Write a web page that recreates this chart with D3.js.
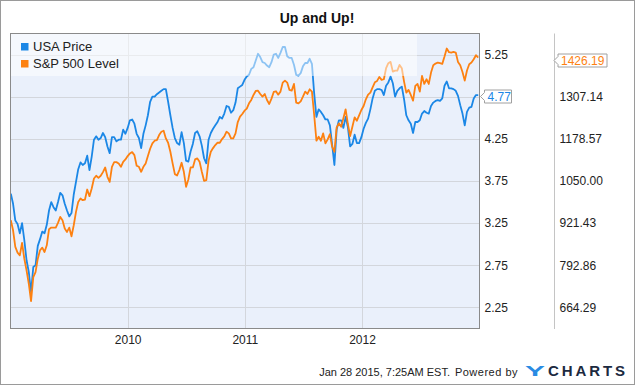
<!DOCTYPE html>
<html><head><meta charset="utf-8">
<script src="https://cdn.jsdelivr.net/npm/d3@7"></script>
<style>
html,body{margin:0;padding:0;background:#fff;}
svg{display:block;font-family:"Liberation Sans",Arial,sans-serif;}
</style></head><body>
<svg id="chart" width="635" height="385"></svg>
<script>
const chartTitle = "Up and Up!";
const seriesNames = ["USA Price", "S&P 500 Level"];
const seriesColors = ["#1b87e6", "#fd8111"];
const firstWeek = "2009-01-02"; // weekly closes
const usaPrice = [
3.60,3.48,3.28,3.24,3.13,3.25,3.05,2.81,2.67,2.43,
2.73,2.75,2.98,3.06,3.15,3.13,3.23,3.40,3.50,3.44,
3.40,3.50,3.61,3.58,3.48,3.40,3.33,3.37,3.59,3.74,
3.89,3.97,3.94,3.96,4.05,3.88,4.04,4.24,4.28,4.24,
4.26,4.32,4.27,4.16,4.08,4.27,4.27,4.22,4.24,4.24,
4.36,4.31,4.38,4.47,
4.48,4.43,4.31,4.26,4.14,4.31,
4.41,4.53,4.69,4.75,4.75,4.78,4.80,4.82,4.84,4.84,
4.69,4.53,4.38,4.26,4.20,4.18,4.33,4.20,3.99,3.98,
4.10,4.19,4.32,4.34,4.28,4.17,4.02,3.96,4.24,4.32,
4.37,4.41,4.45,4.51,4.49,4.55,4.64,4.63,4.56,4.59,
4.68,4.85,4.87,4.89,4.95,4.99,
5.01,5.08,5.10,5.18,
5.26,5.22,5.16,5.15,5.12,5.10,5.16,5.25,5.26,5.21,
5.27,5.34,5.34,5.23,5.21,5.21,5.13,5.01,5.00,5.03,
5.11,5.15,5.15,5.20,5.14,4.79,4.51,4.60,4.57,4.53,
4.48,4.48,4.41,4.18,3.94,4.36,4.47,4.47,4.38,4.51,
4.39,4.16,4.19,4.30,4.20,4.20,4.27,4.37,
4.44,4.49,4.60,4.73,4.82,4.84,4.84,4.83,4.77,4.88,4.92,4.99,
4.91,4.75,4.82,4.85,4.87,4.72,4.53,4.47,4.43,4.32,
4.45,4.45,4.47,4.55,4.58,4.56,4.55,4.64,4.68,4.70,
4.71,4.70,4.73,4.88,4.93,4.85,4.85,4.84,4.82,4.76,
4.65,4.55,4.41,4.57,4.62,4.63,4.73,4.77,4.77
];
const sp500Level = [
930.3,899.7,848.8,831.4,823.3,861.0,813.1,777.4,736.6,683.6,
757.0,772.3,813.1,838.6,846.7,833.5,853.9,902.8,907.9,907.9,
907.9,922.1,940.5,930.3,904.8,894.6,907.9,881.4,915.0,955.8,
986.3,996.5,991.4,993.5,1024.0,1003.7,1027.1,1057.7,1065.9,1059.7,
1065.9,1077.0,1091.3,1062.8,1047.5,1093.4,1107.6,1107.6,1103.6,1093.4,
1108.6,1115.8,1126.0,1134.1,
1138.2,1129.0,1096.4,1093.4,1078.1,1093.4,
1103.6,1126.0,1148.4,1164.7,1172.9,1174.9,1190.2,1200.4,1203.4,1180.0,
1166.7,1139.2,1103.6,1070.9,1066.9,1083.2,1105.6,1078.1,1032.2,1054.6,
1091.3,1091.3,1115.8,1118.9,1108.6,1078.1,1050.6,1052.6,1111.7,1139.2,
1150.4,1159.6,1166.7,1166.7,1177.9,1186.1,1200.4,1195.3,1180.0,1180.0,
1195.3,1229.9,1246.2,1254.4,1264.6,1270.7,
1287.0,1297.2,1312.5,1324.7,
1325.7,1315.5,1307.4,1315.5,1297.2,1284.9,1301.3,1321.6,1323.7,1313.5,
1322.7,1350.2,1356.3,1350.2,1327.8,1325.7,1346.1,1289.1,1287.0,1293.1,
1307.4,1322.7,1315.5,1329.8,1322.7,1251.3,1172.9,1185.1,1172.9,1195.3,
1164.7,1177.0,1193.2,1154.5,1139.2,1213.6,1225.9,1215.7,1241.2,1268.7,
1223.8,1187.1,1215.7,1244.2,1234.0,1250.3,1266.6,1278.9,
1299.2,1313.5,1319.6,1335.9,1351.2,1355.3,1367.5,1358.4,1360.4,1394.0,1409.3,1413.4,
1383.8,1386.9,1386.9,1404.2,1394.0,1353.3,1319.6,1327.8,1312.5,1295.2,
1340.0,1346.1,1322.7,1370.6,1346.1,1360.4,1346.1,1380.8,1403.2,1408.3,
1411.4,1409.3,1407.3,1429.7,1454.2,1442.9,1441.9,1443.9,1441.9,1413.4,
1403.2,1382.8,1356.3,1386.9,1406.2,1411.4,1421.6,1433.8,1426.19
];
const usaGridTicks = ["2.25","2.75","3.25","3.75","4.25","4.75","5.25"];
const usaTickLabels = ["2.25","2.75","3.25","3.75","4.25","5.25"]; // 4.75 sits under the last-value flag
const spTicks = ["664.29","792.86","921.43","1050.00","1178.57","1307.14"];
const yearTicks = ["2010","2011","2012"];
const xDomain = ["2009-01-01","2013-01-01"];
const usaDomain = [2.0, 5.5];
const lastUsa = "4.77", lastSp = "1426.19";
const footerText = "Jan 28 2015, 7:25AM EST.";
const poweredText = "Powered by";

const svg = d3.select("#chart");
const parse = d3.timeParse("%Y-%m-%d");
const start = parse(firstWeek);
const dates = usaPrice.map((_, i) => d3.timeDay.offset(start, 7 * i));

const P = {l: 10.5, r: 479.5, t: 33.5, b: 328.5};
const x = d3.scaleTime().domain(xDomain.map(parse)).range([P.l, P.r]);
const y = d3.scaleLinear().domain(usaDomain).range([P.b, P.t]);
const spNum = spTicks.map(Number);
const y2 = d3.scaleLinear().domain([spNum[0], spNum[5]]).range([y(+usaGridTicks[0]), y(+usaGridTicks[5])]);

// outer border
svg.append("rect").attr("x",0.5).attr("y",0.5).attr("width",634).attr("height",384)
  .attr("fill","#fff").attr("stroke","#9a9a9a");

// title
svg.append("text").attr("x",317).attr("y",23).attr("text-anchor","middle")
  .attr("font-size",14).attr("font-weight","bold").attr("fill","#111").text(chartTitle);

// plot bg
svg.append("rect").attr("x",P.l).attr("y",P.t).attr("width",P.r-P.l).attr("height",P.b-P.t)
  .attr("fill","#eaf0fb");

// grid
const grid = svg.append("g").attr("stroke","#d3d6dc").attr("stroke-width",1);
usaGridTicks.forEach(t => {
  const yy = Math.round(y(+t)) + 0.5;
  grid.append("line").attr("x1",P.l).attr("x2",P.r).attr("y1",yy).attr("y2",yy);
});
yearTicks.forEach(t => {
  const xx = Math.round(x(parse(t+"-01-01"))) + 0.5;
  grid.append("line").attr("x1",xx).attr("x2",xx).attr("y1",P.t).attr("y2",P.b);
});

// lines
const lineUsa = d3.line().x((d,i) => x(dates[i])).y(d => y(d));
const lineSp = d3.line().x((d,i) => x(dates[i])).y(d => y2(d));
svg.append("path").datum(usaPrice).attr("d",lineUsa).attr("fill","none")
  .attr("stroke",seriesColors[0]).attr("stroke-width",1.8).attr("stroke-linejoin","round");
svg.append("path").datum(sp500Level).attr("d",lineSp).attr("fill","none")
  .attr("stroke",seriesColors[1]).attr("stroke-width",1.8).attr("stroke-linejoin","round");

// legend overlay
svg.append("rect").attr("x",P.l).attr("y",P.t).attr("width",417-P.l).attr("height",76-P.t)
  .attr("fill","#fff").attr("opacity",0.5);

// plot border
svg.append("rect").attr("x",P.l).attr("y",P.t).attr("width",P.r-P.l).attr("height",P.b-P.t)
  .attr("fill","none").attr("stroke","#8a8a8a");

// legend
seriesNames.forEach((n,i) => {
  svg.append("rect").attr("x",21).attr("y",43+i*17).attr("width",7.5).attr("height",7.5)
    .attr("fill",seriesColors[i]);
  svg.append("text").attr("x",33).attr("y",51+i*17).attr("font-size",13).attr("fill","#222").text(n);
});

// right axis (primary)
const axR = d3.axisRight(y).tickValues(usaTickLabels.map(Number)).tickSize(0).tickPadding(5)
  .tickFormat(d3.format(".2f"));
const gR = svg.append("g").attr("transform",`translate(${P.r},0)`).call(axR);
gR.select(".domain").remove();
gR.selectAll("text").attr("font-size",12).attr("fill","#222").attr("font-family","Liberation Sans, Arial, sans-serif");

// secondary axis
const ax2 = d3.axisRight(y2).tickValues(spNum).tickSize(0).tickPadding(5)
  .tickFormat((d,i) => spTicks[i]);
const g2 = svg.append("g").attr("transform","translate(554.5,0)").call(ax2);
g2.select(".domain").remove();
g2.append("line").attr("x1",0).attr("x2",0).attr("y1",P.t).attr("y2",P.b+0.5).attr("stroke","#c4c4c4");
g2.selectAll("text").attr("font-size",12).attr("fill","#222").attr("font-family","Liberation Sans, Arial, sans-serif");

// x axis
const axB = d3.axisBottom(x).tickValues(yearTicks.map(t => parse(t+"-01-01"))).tickSize(0).tickPadding(7)
  .tickFormat(d3.timeFormat("%Y"));
const gB = svg.append("g").attr("transform",`translate(0,${P.b})`).call(axB);
gB.select(".domain").remove();
gB.selectAll("text").attr("font-size",12).attr("fill","#222").attr("font-family","Liberation Sans, Arial, sans-serif");

// last value flags
function flag(xTip, cy, w, txt, col) {
  const l = xTip + 4, h = 6.5;
  svg.append("path").attr("d",`M${xTip},${cy}L${l},${cy-4}L${l},${cy-h}L${l+w},${cy-h}L${l+w},${cy+h}L${l},${cy+h}L${l},${cy+4}Z`)
    .attr("fill","#fff").attr("stroke","#a0a0a0");
  svg.append("text").attr("x",l+3).attr("y",cy).attr("dy","0.35em").attr("font-size",12)
    .attr("fill",col).text(txt);
}
flag(480.5, Math.round(y(+lastUsa))+1.5, 27, lastUsa, seriesColors[0]);
flag(554, Math.round(y2(+lastSp))+2.5, 49, lastSp, seriesColors[1]);

// footer
svg.append("text").attr("x",450).attr("y",375.5).attr("text-anchor","end").attr("font-size",11)
  .attr("fill","#222").text(footerText);
svg.append("text").attr("x",518).attr("y",375.5).attr("text-anchor","end").attr("font-size",11)
  .attr("fill","#222").attr("letter-spacing",0.5).text(poweredText);
svg.append("text").attr("x",525).attr("y",376).attr("font-size",15).attr("font-weight","bold")
  .attr("fill","#2a8be3").attr("textLength",20).attr("lengthAdjust","spacingAndGlyphs").text("Y");
svg.append("text").attr("x",548).attr("y",376).attr("font-size",15).attr("font-weight","bold")
  .attr("fill","#1c2a40").attr("textLength",77).attr("lengthAdjust","spacing").text("CHARTS");
</script>
</body></html>
